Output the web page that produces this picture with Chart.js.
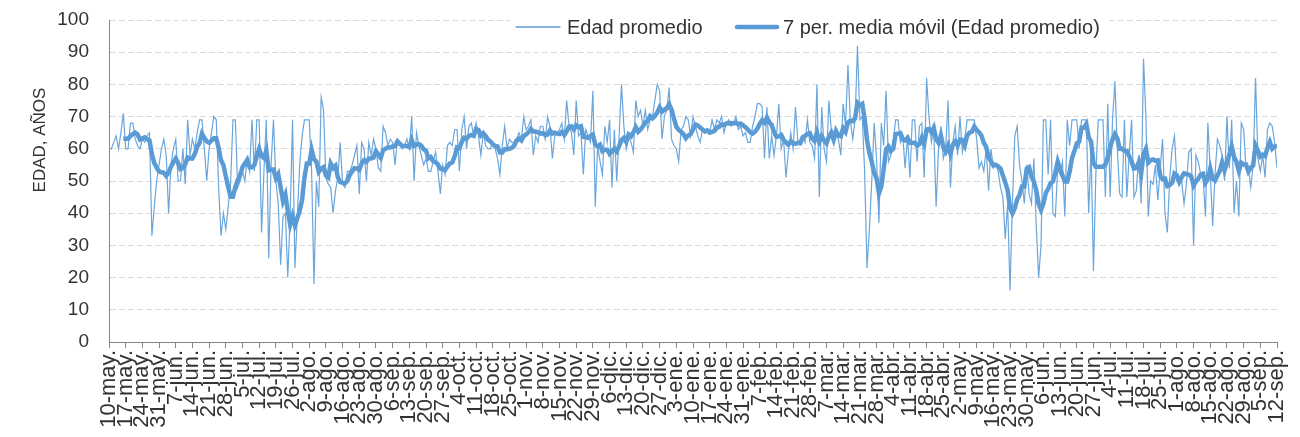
<!DOCTYPE html>
<html lang="es">
<head>
<meta charset="utf-8">
<title>Edad promedio</title>
<script src="https://cdn.jsdelivr.net/npm/chart.js@4.4.1/dist/chart.umd.min.js"></script>
<style>
  html, body { margin: 0; padding: 0; background: #fff; }
  canvas { display: block; }
</style>
</head>
<body>
<canvas id="edadChart" width="1300" height="437"></canvas>
<script>
// etiquetas del eje x, una cada 7 días (día 0 = 10-may.)
const weekLabels = [
  '10-may.', '17-may.', '24-may.', '31-may.', '7-jun.', '14-jun.', '21-jun.', '28-jun.',
  '5-jul.', '12-jul.', '19-jul.', '26-jul.', '2-ago.', '9-ago.', '16-ago.', '23-ago.', '30-ago.',
  '6-sep.', '13-sep.', '20-sep.', '27-sep.', '4-oct.', '11-oct.', '18-oct.', '25-oct.',
  '1-nov.', '8-nov.', '15-nov.', '22-nov.', '29-nov.', '6-dic.', '13-dic.', '20-dic.', '27-dic.',
  '3-ene.', '10-ene.', '17-ene.', '24-ene.', '31-ene.', '7-feb.', '14-feb.', '21-feb.', '28-feb.',
  '7-mar.', '14-mar.', '21-mar.', '28-mar.', '4-abr.', '11-abr.', '18-abr.', '25-abr.',
  '2-may.', '9-may.', '16-may.', '23-may.', '30-may.', '6-jun.', '13-jun.', '20-jun.', '27-jun.',
  '4-jul.', '11-jul.', '18-jul.', '25-jul.', '1-ago.', '8-ago.', '15-ago.', '22-ago.', '29-ago.',
  '5-sep.', '12-sep.'
];

// edad promedio diaria (una fila = una semana)
const edadPromedio = [
  60, 60, 62, 64, 60, 65, 71,
  60, 60, 68, 68, 63, 61, 60,
  63, 62, 64, 65, 33, 42, 50,
  55, 60, 63, 58, 40, 55, 60,
  63, 50, 50, 60, 49, 69, 58,
  63, 60, 65, 69, 69, 60, 50,
  60, 65, 70, 69, 48, 33, 40,
  35, 42, 49, 69, 69, 48, 50,
  53, 50, 57, 53, 69, 53, 69,
  69, 34, 53, 69, 26, 55, 69,
  50, 43, 24, 39, 40, 20, 39,
  69, 23, 39, 55, 64, 69, 69,
  69, 53, 18, 50, 42, 76, 72,
  51, 49, 48, 40, 47, 51, 62,
  49, 48, 53, 53, 55, 58, 61,
  46, 62, 60, 50, 62, 58, 63,
  60, 54, 53, 67, 65, 61, 63,
  62, 55, 63, 62, 60, 61, 63,
  60, 70, 50, 65, 61, 58, 55,
  57, 53, 53, 56, 59, 53, 46,
  55, 52, 61, 62, 61, 66, 66,
  53, 66, 70, 60, 67, 68, 64,
  68, 64, 58, 65, 61, 60, 60,
  62, 60, 57, 52, 61, 67, 60,
  63, 62, 62, 63, 65, 63, 70,
  66, 67, 69, 58, 64, 62, 67,
  67, 63, 70, 67, 57, 64, 65,
  66, 68, 63, 75, 67, 65, 58,
  75, 64, 65, 52, 66, 64, 62,
  78, 42, 61, 56, 52, 67, 62,
  69, 48, 66, 50, 64, 80, 67,
  60, 64, 62, 59, 75, 70, 72,
  67, 72, 66, 69, 70, 75, 80,
  78, 63, 70, 72, 79, 63, 61,
  60, 56, 66, 67, 70, 69, 64,
  70, 67, 64, 62, 66, 65, 66,
  65, 69, 66, 69, 68, 70, 65,
  68, 69, 67, 68, 70, 66, 67,
  64, 65, 62, 62, 67, 70, 74,
  74, 73, 57, 73, 57, 64, 58,
  64, 74, 60, 63, 51, 59, 65,
  60, 73, 62, 62, 64, 62, 69,
  62, 61, 57, 80, 45, 73, 60,
  56, 75, 66, 65, 64, 63, 58,
  74, 67, 86, 69, 63, 69, 92,
  69, 70, 53, 23, 35, 50, 68,
  57, 37, 68, 61, 78, 56, 58,
  62, 69, 69, 62, 64, 54, 64,
  51, 69, 69, 56, 67, 68, 51,
  82, 70, 62, 66, 42, 60, 67,
  57, 60, 75, 48, 62, 67, 58,
  70, 59, 63, 69, 69, 69, 69,
  63, 54, 56, 53, 60, 47, 60,
  54, 55, 53, 48, 45, 32, 43,
  16, 43, 64, 67, 55, 50, 43,
  55, 46, 43, 57, 36, 20, 30,
  69, 69, 52, 69, 40, 39, 54,
  52, 56, 39, 69, 61, 69, 69,
  69, 60, 69, 69, 69, 40, 60,
  22, 52, 69, 69, 69, 45, 74,
  45, 69, 81, 60, 46, 45, 69,
  45, 58, 69, 45, 47, 58, 43,
  88, 70, 39, 50, 49, 55, 44,
  54, 63, 40, 34, 51, 60, 64,
  50, 49, 50, 43, 49, 59, 60,
  30, 58, 56, 52, 51, 39, 68,
  53, 36, 52, 63, 61, 58, 50,
  70, 54, 69, 40, 50, 39, 68,
  66, 54, 54, 48, 55, 82, 57,
  53, 58, 51, 66, 68, 67, 62,
  54
];

const periodosMediaMovil = 7;

// linea de tendencia "7 per. media movil", como la calcula Excel
function mediaMovil(values, n) {
  return values.map((v, i) => {
    if (i < n - 1) return null;
    let s = 0;
    for (let k = i - n + 1; k <= i; k++) s += values[k];
    return s / n;
  });
}

const media = mediaMovil(edadPromedio, periodosMediaMovil);
const azul = '#5B9BD5';
const fuente = '"Liberation Sans", Arial, sans-serif';

// titulo del eje y y leyenda, dibujados sobre el grafico como en Excel
const leyendaPlugin = {
  id: 'leyendaPlugin',
  afterDraw(chart) {
    const ctx = chart.ctx;
    ctx.save();
    ctx.fillStyle = '#333';
    ctx.font = '17px ' + fuente;
    ctx.textAlign = 'center';
    ctx.textBaseline = 'middle';
    ctx.translate(40, 140);
    ctx.rotate(-Math.PI / 2);
    ctx.fillText('EDAD, AÑOS', 0, 0);
    ctx.restore();

    ctx.save();
    ctx.fillStyle = '#fff';
    ctx.fillRect(510, 13, 598, 28);
    ctx.strokeStyle = azul;
    ctx.lineCap = 'round';
    ctx.lineWidth = 1.3;
    ctx.beginPath(); ctx.moveTo(516, 27); ctx.lineTo(560, 27); ctx.stroke();
    ctx.lineWidth = 4.5;
    ctx.beginPath(); ctx.moveTo(737, 27); ctx.lineTo(777, 27); ctx.stroke();
    ctx.fillStyle = '#333';
    ctx.font = '20px ' + fuente;
    ctx.textAlign = 'left';
    ctx.textBaseline = 'middle';
    ctx.fillText('Edad promedio', 567, 28);
    ctx.fillText('7 per. media móvil (Edad promedio)', 783, 28);
    ctx.restore();
  }
};

const chart = new Chart(document.getElementById('edadChart').getContext('2d'), {
  type: 'line',
  data: {
    datasets: [
      {
        label: '7 per. media móvil (Edad promedio)',
        data: media.map((v, i) => ({ x: i, y: v })),
        borderColor: azul,
        borderWidth: 4.5,
        pointRadius: 0,
        tension: 0,
        spanGaps: false,
        order: 0
      },
      {
        label: 'Edad promedio',
        data: edadPromedio.map((v, i) => ({ x: i, y: v })),
        borderColor: '#6aa6dc',
        borderWidth: 1.2,
        pointRadius: 0,
        tension: 0,
        order: 1
      }
    ]
  },
  options: {
    responsive: false,
    animation: false,
    layout: { padding: { top: 20, right: 23, left: 0, bottom: 0 } },
    plugins: {
      legend: { display: false },
      tooltip: { enabled: false }
    },
    scales: {
      x: {
        type: 'linear',
        min: 0,
        max: edadPromedio.length - 1,
        afterFit: (scale) => {
          scale.height = 95;
          scale.paddingRight = 0;
        },
        grid: {
          drawOnChartArea: false,
          drawTicks: true,
          tickLength: 6,
          color: '#868686'
        },
        border: { display: true, color: '#868686', width: 1 },
        ticks: {
          stepSize: 7,
          autoSkip: false,
          minRotation: 90,
          maxRotation: 90,
          padding: 2,
          color: '#333',
          font: { family: fuente, size: 22 },
          callback: (value) => weekLabels[Math.round(value / 7)] || ''
        }
      },
      y: {
        min: 0,
        max: 100,
        afterFit: (scale) => { scale.width = 109; },
        grid: {
          color: '#d9d9d9',
          lineWidth: 1,
          drawTicks: true,
          tickLength: 16,
          tickColor: 'rgba(0,0,0,0)'
        },
        border: { display: true, color: '#868686', width: 1, dash: [6, 3] },
        ticks: {
          stepSize: 10,
          padding: 4,
          color: '#333',
          font: { family: fuente, size: 19 }
        }
      }
    }
  },
  plugins: [leyendaPlugin]
});
</script>
</body>
</html>
